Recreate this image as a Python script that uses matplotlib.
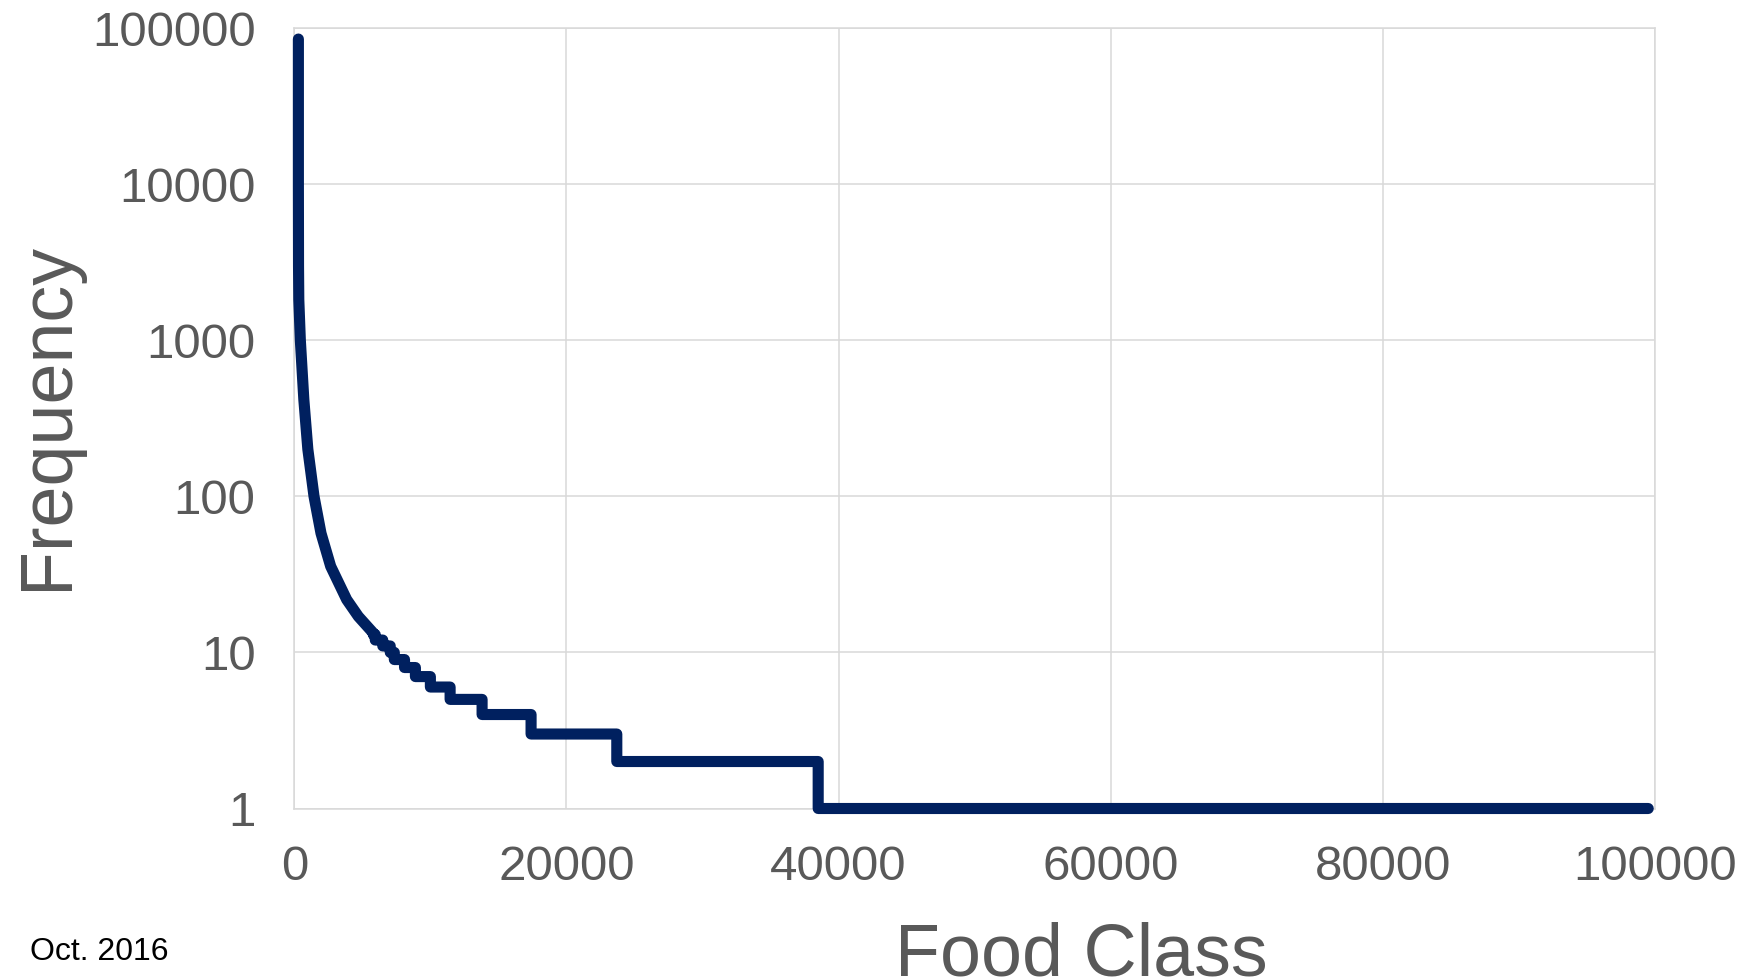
import matplotlib.pyplot as plt
from matplotlib.ticker import FixedLocator, NullLocator, FuncFormatter

plt.rcParams['font.family'] = ['Liberation Sans', 'DejaVu Sans']

# Head of the distribution: rank vs. frequency for the most common classes
head_rank = [300, 300, 310, 330, 443, 700, 995, 1448, 1962, 2673, 3849, 4706, 5807]
head_freq = [85000, 10000, 3000, 1820, 1000, 417, 200, 100, 58, 35.6, 21.8, 17, 13.3]

# Tail: integer frequencies and the rank at which each one ends
step_freq = [13, 12, 11, 10, 9, 8, 7, 6, 5, 4, 3, 2, 1]
step_end_rank = [5950, 6500, 7050, 7350, 8100, 8900, 10000, 11450,
                 13800, 17400, 23700, 38500, 99500]

x_ticks = [0, 20000, 40000, 60000, 80000, 100000]
y_ticks = [1, 10, 100, 1000, 10000, 100000]

# join head and tail into one stepped polyline
xs = list(head_rank)
ys = list(head_freq)
prev = head_rank[-1]
for f, end in zip(step_freq, step_end_rank):
    xs += [prev, end]
    ys += [f, f]
    prev = end

grid_col = '#D9D9D9'
text_col = '#595959'

fig = plt.figure(figsize=(17.56, 9.8), dpi=100)
ax = fig.add_axes([0.1676, 0.175, 0.7749, 0.7964])

ax.plot(xs, ys, color='#00205F', linewidth=8,
        solid_capstyle='round', solid_joinstyle='round', zorder=3,
        clip_on=False)

ax.set_yscale('log')
ax.set_xlim(0, 100000)
ax.set_ylim(1, 100000)
ax.xaxis.set_major_locator(FixedLocator(x_ticks))
ax.yaxis.set_major_locator(FixedLocator(y_ticks))
ax.yaxis.set_minor_locator(NullLocator())
ax.xaxis.set_major_formatter(FuncFormatter(lambda v, p: f'{int(v)}'))
ax.yaxis.set_major_formatter(FuncFormatter(lambda v, p: f'{int(round(v))}'))

ax.grid(True, color=grid_col, linewidth=1.1)
ax.set_axisbelow(True)
for s in ax.spines.values():
    s.set_color(grid_col)
    s.set_linewidth(1.1)

ax.tick_params(axis='both', length=0, labelsize=35.5, labelcolor=text_col)
ax.tick_params(axis='y', pad=28)
ax.tick_params(axis='x', pad=26)

fig.text(0.6156, 0.0051, 'Food Class', fontsize=53, color=text_col,
         ha='center', va='baseline')
fig.text(0.0268, 0.5755, 'Frequency', fontsize=53, color=text_col,
         rotation=90, ha='center', va='center')
fig.text(0.0171, 0.0204, 'Oct. 2016', fontsize=23, color='black',
         ha='left', va='baseline')

fig.savefig('out.png', dpi=100)
